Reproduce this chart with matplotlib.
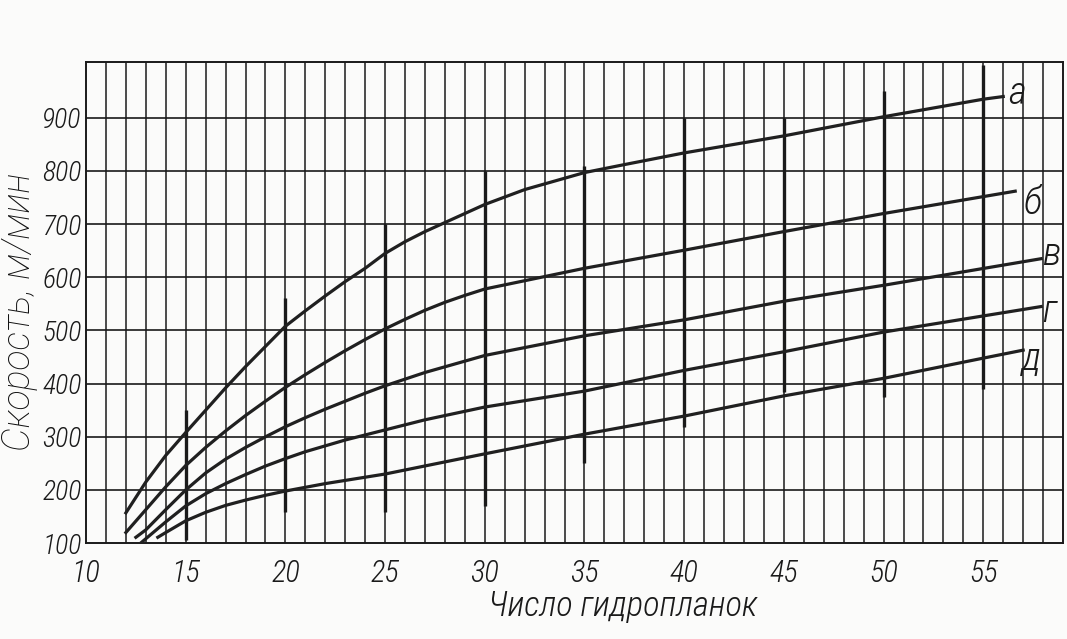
import matplotlib
matplotlib.use("Agg")
import matplotlib.pyplot as plt

# ---- data ----
x_a = [12, 13, 14, 15, 16, 17, 18, 19, 20, 21, 22, 23, 24, 25, 26, 27, 28, 29, 30, 32, 35, 37, 40, 45, 50, 55, 56]
y_a = [157, 215, 265, 308, 350, 392, 432, 470, 508, 537, 565, 592, 617, 645, 667, 686, 703, 720, 737, 765, 797, 812, 834, 866, 902, 935, 940]

x_b = [12, 13, 14, 15, 16, 17, 18, 19, 20, 21, 22, 23, 24, 25, 26, 27, 28, 29, 30, 35, 40, 45, 50, 56.6]
y_b = [120, 163, 206, 246, 280, 311, 340, 367, 393, 417, 440, 462, 483, 503, 521, 538, 553, 566, 578, 617, 651, 686, 720, 762]

x_v = [12.5, 13, 14, 15, 16, 17, 18, 19, 20, 21, 22, 23, 24, 25, 27, 30, 35, 40, 45, 50, 57.9]
y_v = [111, 125, 163, 200, 232, 258, 280, 300, 319, 336, 352, 367, 382, 396, 421, 453, 490, 520, 555, 585, 635]

x_g = [12.8, 14, 15, 16, 17, 18, 19, 20, 21, 23, 25, 27, 30, 35, 40, 45, 50, 57.9]
y_g = [102, 140, 170, 193, 212, 229, 245, 259, 272, 294, 313, 332, 356, 386, 425, 460, 497, 545]

x_d = [13.6, 14, 15, 16, 17, 18, 19, 20, 22, 25, 30, 35, 40, 45, 50, 55, 57]
y_d = [111, 120, 142, 158, 171, 181, 190, 198, 212, 230, 268, 305, 339, 377, 410, 448, 463]

curve_names = ["а", "б", "в", "г", "д"]
label_x = [56.7, 57.5, 58.4, 58.3, 57.4]
label_y = [945, 738, 643, 535, 446]

# bold drafting segments on every fifth vertical line: (x, from, to)
bold_x = [15, 20, 25, 30, 35, 40, 45, 50, 55]
bold_lo = [105, 158, 158, 170, 250, 318, 385, 375, 390]
bold_hi = [351, 562, 700, 800, 810, 900, 900, 950, 1000]

x_ticks = [10, 15, 20, 25, 30, 35, 40, 45, 50, 55]
y_ticks = [100, 200, 300, 400, 500, 600, 700, 800, 900]
x_label = "Число гидропланок"
y_label = "Скорость, м/мин"

# ---- drawing ----
FONT = ["Roboto Condensed", "Fira Sans Condensed", "DejaVu Sans"]
WIDE = ["Roboto", "DejaVu Sans"]
ink = "#1a1a1a"
tstyle = dict(family=FONT, style="italic", weight="light", color=ink)

fig = plt.figure(figsize=(10.67, 6.39), dpi=100)
fig.patch.set_facecolor("#fbfbfa")
ax = fig.add_axes([0.0806, 0.150, 0.9157, 0.753])
ax.set_facecolor("#fbfbfa")
ax.set_xlim(10, 59)
ax.set_ylim(100, 1005)

for xv in range(11, 59):
    ax.axvline(xv, color=ink, lw=1.1, zorder=1)
for yv in y_ticks[1:]:
    ax.axhline(yv, color=ink, lw=1.2, zorder=1)
for xv, lo, hi in zip(bold_x, bold_lo, bold_hi):
    ax.plot([xv, xv], [lo, hi], color=ink, lw=2.4, zorder=2, solid_capstyle="butt")

for xs, ys in [(x_a, y_a), (x_b, y_b), (x_v, y_v), (x_g, y_g), (x_d, y_d)]:
    ax.plot(xs, ys, color="#202020", lw=2.3, zorder=3, solid_joinstyle="round")

for name, lx, ly in zip(curve_names, label_x, label_y):
    ax.text(lx, ly, name, fontsize=28, ha="center", va="center", zorder=4, **tstyle)

for s in ax.spines.values():
    s.set_color(ink)
    s.set_linewidth(1.4)

ax.set_xticks(x_ticks)
ax.set_yticks(y_ticks)
ax.set_xticklabels([str(v) for v in x_ticks], fontsize=22, **tstyle)
ax.set_yticklabels([str(v) for v in y_ticks], fontsize=20, **tstyle)
ax.tick_params(axis="x", length=0, pad=11)
ax.tick_params(axis="y", length=0, pad=3)

ax.set_xlabel(x_label, fontsize=25, **tstyle)
ax.xaxis.set_label_coords(0.549, -0.098)
ax.set_ylabel(y_label, fontsize=27, family=WIDE, style="italic", weight="light", color="#111111")
ax.yaxis.set_label_coords(-0.049, 0.48)

fig.savefig("out.png", dpi=100, facecolor=fig.get_facecolor())
